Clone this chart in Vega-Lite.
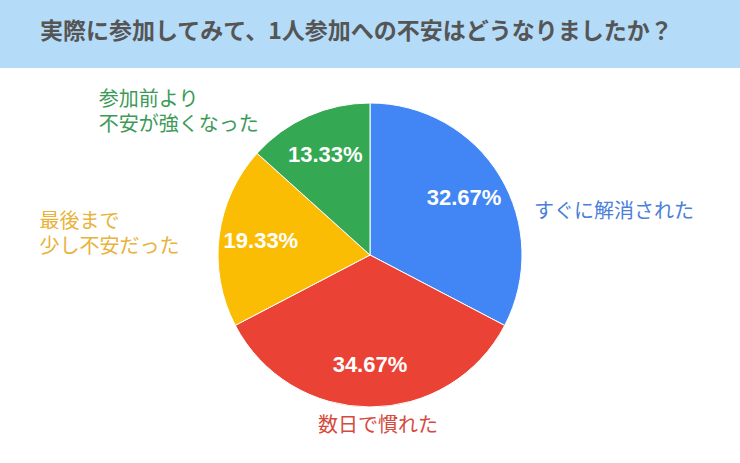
{
  "$schema": "https://vega.github.io/schema/vega-lite/v6.json",
  "description": "実際に参加してみて、1人参加への不安はどうなりましたか？",
  "padding": 0,
  "spacing": 0,
  "background": "#ffffff",
  "config": {"view": {"stroke": null}},
  "datasets": {
    "head": [{"text": "実際に参加してみて、1人参加への不安はどうなりましたか？"}],
    "pie": [
      {"label": "すぐに解消された", "value": 32.67, "order": 1},
      {"label": "数日で慣れた", "value": 34.67, "order": 2},
      {"label": "最後まで\n少し不安だった", "value": 19.33, "order": 3},
      {"label": "参加前より\n不安が強くなった", "value": 13.33, "order": 4}
    ]
  },
  "vconcat": [
    {
      "data": {"name": "head"},
      "width": 740,
      "height": 68,
      "view": {"fill": "#b4dbf8", "stroke": null},
      "mark": {
        "type": "text",
        "align": "left",
        "baseline": "middle",
        "dx": -330,
        "dy": -2,
        "font": "Noto Sans CJK JP",
        "fontSize": 23,
        "fontWeight": "bold",
        "fill": "#555555"
      },
      "encoding": {"text": {"field": "text"}}
    },
    {
      "data": {"name": "pie"},
      "width": 740,
      "height": 374,
      "transform": [
        {"stack": "value", "groupby": [], "sort": [{"field": "order", "order": "ascending"}], "as": ["v0", "v1"]},
        {"calculate": "(datum.v0 + datum.v1) / 2", "as": "mid"},
        {"calculate": "format(datum.value, '.2f') + '%'", "as": "pct"}
      ],
      "layer": [
        {
          "mark": {"type": "arc", "outerRadius": 152, "stroke": "#ffffff", "strokeWidth": 1},
          "encoding": {
            "theta": {"field": "v0", "type": "quantitative", "scale": {"domain": [0, 100]}},
            "theta2": {"field": "v1"},
            "color": {
              "field": "label",
              "type": "nominal",
              "legend": null,
              "scale": {
                "domain": ["すぐに解消された", "数日で慣れた", "最後まで\n少し不安だった", "参加前より\n不安が強くなった"],
                "range": ["#4285f4", "#ea4335", "#fbbc04", "#34a853"]
              }
            }
          }
        },
        {
          "mark": {
            "type": "text",
            "radius": 110,
            "baseline": "middle",
            "font": "Liberation Sans",
            "fontSize": 22,
            "fontWeight": "bold",
            "fill": "#ffffff"
          },
          "encoding": {
            "theta": {"field": "mid", "type": "quantitative", "stack": null},
            "text": {"field": "pct"}
          }
        },
        {
          "transform": [{"filter": "datum.order == 1"}],
          "mark": {"type": "text", "radius": 180, "align": "left", "baseline": "middle", "dx": 10, "dy": 50,
                   "font": "Noto Sans CJK JP", "fontSize": 20, "fill": "#4a80d8"},
          "encoding": {
            "theta": {"field": "mid", "type": "quantitative", "stack": null},
            "text": {"field": "label"}
          }
        },
        {
          "transform": [{"filter": "datum.order == 2"}],
          "mark": {"type": "text", "radius": 169, "align": "center", "baseline": "middle", "dx": 8, "dy": 2,
                   "font": "Noto Sans CJK JP", "fontSize": 20, "fill": "#d64a3e"},
          "encoding": {
            "theta": {"field": "mid", "type": "quantitative", "stack": null},
            "text": {"field": "label"}
          }
        },
        {
          "transform": [{"filter": "datum.order == 3"}],
          "mark": {"type": "text", "radius": 175, "align": "left", "baseline": "middle", "dx": -157, "dy": -11,
                   "lineBreak": "\n", "lineHeight": 25,
                   "font": "Noto Sans CJK JP", "fontSize": 20, "fill": "#e9b23a"},
          "encoding": {
            "theta": {"field": "mid", "type": "quantitative", "stack": null},
            "text": {"field": "label"}
          }
        },
        {
          "transform": [{"filter": "datum.order == 4"}],
          "mark": {"type": "text", "radius": 175, "align": "left", "baseline": "middle", "dx": -200, "dy": 5,
                   "lineBreak": "\n", "lineHeight": 25,
                   "font": "Noto Sans CJK JP", "fontSize": 20, "fill": "#3c9a57"},
          "encoding": {
            "theta": {"field": "mid", "type": "quantitative", "stack": null},
            "text": {"field": "label"}
          }
        }
      ]
    }
  ]
}
